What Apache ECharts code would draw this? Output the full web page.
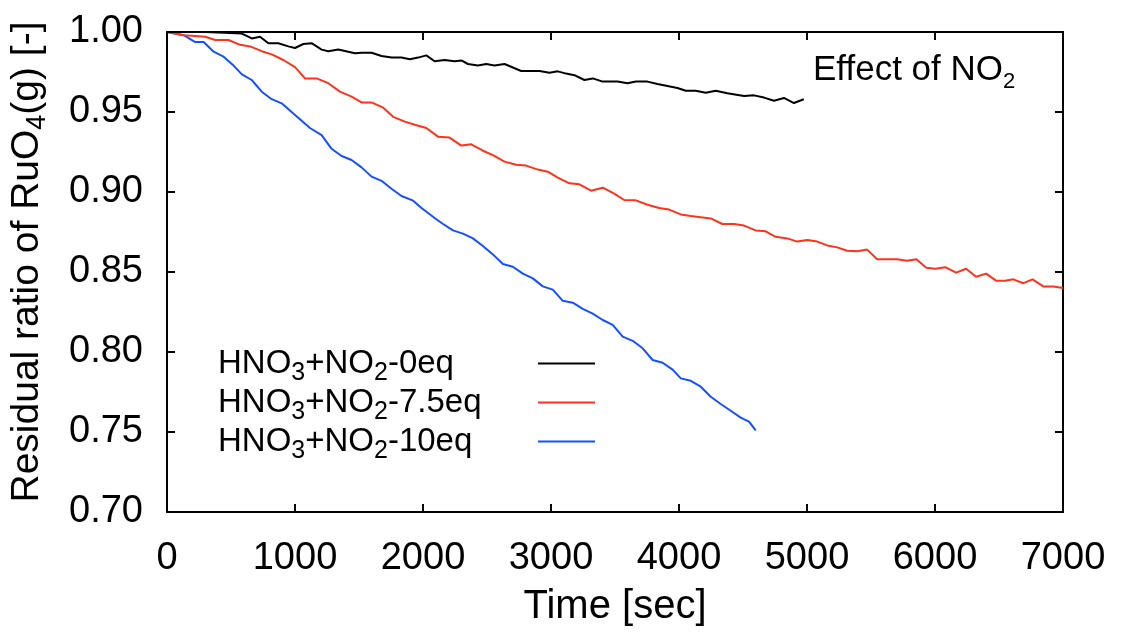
<!DOCTYPE html>
<html>
<head>
<meta charset="utf-8">
<script src="https://cdn.jsdelivr.net/npm/echarts@6/dist/echarts.min.js"></script>
<style>
html,body{margin:0;padding:0;background:#fff;}
#chart{width:1124px;height:633px;}
</style>
</head>
<body>
<div id="chart"></div>
<script>
// ---- data (time in sec, residual ratio) ----
const seriesNames = ['HNO3+NO2-0eq', 'HNO3+NO2-7.5eq', 'HNO3+NO2-10eq'];
const legendRich = ['{t|HNO}{s|3}{t|+NO}{s|2}{t|-0eq}', '{t|HNO}{s|3}{t|+NO}{s|2}{t|-7.5eq}', '{t|HNO}{s|3}{t|+NO}{s|2}{t|-10eq}'];

const time0 = [0,300,585,662,727,792,870,948,1000,1065,1130,1208,1260,1338,1468,1520,1598,1676,1754,1832,1897,1962,2026,2091,2169,2247,2300,2351,2429,2494,2559,2637,2767,2910,2988,3053,3118,3183,3261,3326,3404,3520,3598,3663,3754,3832,3988,4053,4131,4209,4287,4378,4508,4586,4664,4742,4820,4898,4975];
const ratio0 = [1.000,1.000,0.999,0.996,0.997,0.993,0.993,0.991,0.990,0.9925,0.993,0.989,0.988,0.989,0.9867,0.987,0.987,0.985,0.984,0.984,0.983,0.984,0.9854,0.9817,0.9825,0.9817,0.9822,0.980,0.979,0.980,0.979,0.980,0.9756,0.9756,0.9746,0.9754,0.974,0.973,0.970,0.971,0.969,0.969,0.968,0.969,0.969,0.9675,0.965,0.9633,0.9633,0.962,0.9633,0.9617,0.960,0.9604,0.959,0.957,0.9588,0.9556,0.958];

const time75 = [0,130,221,299,377,481,572,649,740,818,909,1000,1078,1169,1260,1351,1442,1520,1598,1689,1767,1858,1936,2026,2117,2208,2299,2377,2468,2546,2637,2728,2806,2897,2975,3053,3144,3222,3313,3404,3494,3572,3663,3754,3845,3923,4014,4092,4248,4339,4430,4508,4599,4677,4755,4846,4924,5002,5080,5158,5236,5314,5392,5470,5548,5703,5781,5854,5932,6002,6080,6165,6243,6321,6399,6477,6547,6612,6690,6762,6846,6924,7000];
const ratio75 = [1.0,0.998,0.9975,0.997,0.995,0.995,0.992,0.991,0.988,0.986,0.9825,0.978,0.971,0.971,0.968,0.9627,0.9596,0.956,0.956,0.9527,0.947,0.944,0.942,0.940,0.9346,0.934,0.929,0.9298,0.9258,0.923,0.919,0.917,0.9165,0.914,0.9127,0.909,0.9054,0.9048,0.9008,0.9027,0.899,0.895,0.8948,0.892,0.890,0.889,0.886,0.885,0.8835,0.880,0.880,0.879,0.876,0.8754,0.872,0.871,0.869,0.870,0.869,0.8666,0.8654,0.8633,0.863,0.864,0.858,0.858,0.857,0.858,0.8527,0.852,0.853,0.8496,0.852,0.847,0.849,0.8446,0.8446,0.8454,0.843,0.8454,0.841,0.841,0.840];

const time10 = [0,130,221,286,364,442,520,585,662,740,818,896,987,1117,1208,1286,1364,1442,1520,1598,1676,1754,1832,1923,1988,2104,2157,2234,2312,2390,2468,2546,2624,2702,2780,2858,2936,3014,3092,3170,3248,3326,3404,3482,3560,3638,3716,3794,3872,3950,4014,4092,4170,4248,4326,4404,4482,4547,4599];
const ratio10 = [1.0,0.998,0.9937,0.9937,0.9877,0.9846,0.979,0.9735,0.970,0.9627,0.958,0.9554,0.949,0.940,0.9356,0.927,0.9225,0.920,0.9154,0.9096,0.907,0.902,0.8975,0.8946,0.890,0.883,0.880,0.876,0.874,0.871,0.8662,0.861,0.855,0.8533,0.849,0.846,0.841,0.839,0.832,0.8308,0.827,0.824,0.820,0.817,0.8096,0.807,0.8023,0.795,0.7933,0.789,0.7835,0.782,0.7783,0.772,0.7675,0.7633,0.759,0.7565,0.751];

const xTicks = { min: 0, max: 7000, interval: 1000 };
const yTicks = { min: 0.70, max: 1.00, interval: 0.05 };
const colors = ['#000000', '#ff3319', '#1450ff'];

// ---- chart ----
const FONT = "'Liberation Sans', Arial, Helvetica, sans-serif";
const pairs = (t, v) => t.map((x, i) => [x, v[i]]);
const allData = [pairs(time0, ratio0), pairs(time75, ratio75), pairs(time10, ratio10)];

const chart = echarts.init(document.getElementById('chart'), null, { renderer: 'canvas' });

const axisLine = { show: true, onZero: false, lineStyle: { color: '#000', width: 2 } };
const axisTick = { show: true, inside: true, length: 8, lineStyle: { color: '#000', width: 2 } };

const option = {
  animation: false,
  backgroundColor: '#fff',
  title: {
    text: '{t|Effect of NO}{s|2}',
    left: 813, top: 48, padding: 0,
    textStyle: {
      fontWeight: 'normal',
      rich: {
        t: { fontFamily: FONT, fontSize: 35, fontWeight: 'normal', color: '#000', lineHeight: 45 },
        s: { fontFamily: FONT, fontSize: 22, fontWeight: 'normal', color: '#000', lineHeight: 45, verticalAlign: 'bottom' }
      }
    }
  },
  grid: { left: 165, right: 61, top: 32, bottom: 121, containLabel: false },
  legend: {
    data: seriesNames,
    orient: 'vertical',
    left: 218, top: 347, padding: 0,
    align: 'right',
    icon: 'rect',
    itemWidth: 57, itemHeight: 2,
    itemGap: 0,
    formatter: name => legendRich[seriesNames.indexOf(name)],
    textStyle: {
      width: 315,
      rich: {
        t: { fontFamily: FONT, fontSize: 33, color: '#000', lineHeight: 45, align: 'left' },
        s: { fontFamily: FONT, fontSize: 25, color: '#000', lineHeight: 45, verticalAlign: 'bottom', align: 'left' }
      }
    }
  },
  xAxis: [{
    type: 'value', position: 'bottom',
    min: xTicks.min, max: xTicks.max, interval: xTicks.interval,
    name: 'Time [sec]', nameLocation: 'middle', nameGap: 75,
    nameTextStyle: { fontFamily: FONT, fontSize: 40, color: '#000' },
    axisLine: axisLine, axisTick: axisTick,
    axisLabel: { fontFamily: FONT, fontSize: 38, color: '#000', margin: 28, formatter: v => String(v) },
    splitLine: { show: false }
  }, {
    type: 'value', position: 'top',
    min: xTicks.min, max: xTicks.max, interval: xTicks.interval,
    axisLine: axisLine, axisTick: axisTick,
    axisLabel: { show: false }, splitLine: { show: false }
  }],
  yAxis: [{
    type: 'value', position: 'left',
    min: yTicks.min, max: yTicks.max, interval: yTicks.interval,
    name: '{t|Residual ratio of RuO}{s|4}{t|(g) [-]}',
    nameLocation: 'middle', nameGap: 116, nameRotate: 90,
    nameTextStyle: {
      padding: [0, 0, 0, 20],
      rich: {
        t: { fontFamily: FONT, fontSize: 39, color: '#000', lineHeight: 47 },
        s: { fontFamily: FONT, fontSize: 27, color: '#000', lineHeight: 47, verticalAlign: 'bottom' }
      }
    },
    axisLine: axisLine, axisTick: axisTick,
    axisLabel: { fontFamily: FONT, fontSize: 38, color: '#000', margin: 24, formatter: v => v.toFixed(2) },
    splitLine: { show: false }
  }, {
    type: 'value', position: 'right',
    min: yTicks.min, max: yTicks.max, interval: yTicks.interval,
    axisLine: axisLine, axisTick: axisTick,
    axisLabel: { show: false }, splitLine: { show: false }
  }],
  series: seriesNames.map((name, i) => ({
    name: name,
    type: 'line',
    data: allData[i],
    showSymbol: false,
    symbol: 'none',
    color: colors[i],
    lineStyle: { color: colors[i], width: 2 },
    z: 3 - i,
    clip: true
  }))
};
chart.setOption(option);
</script>
</body>
</html>
